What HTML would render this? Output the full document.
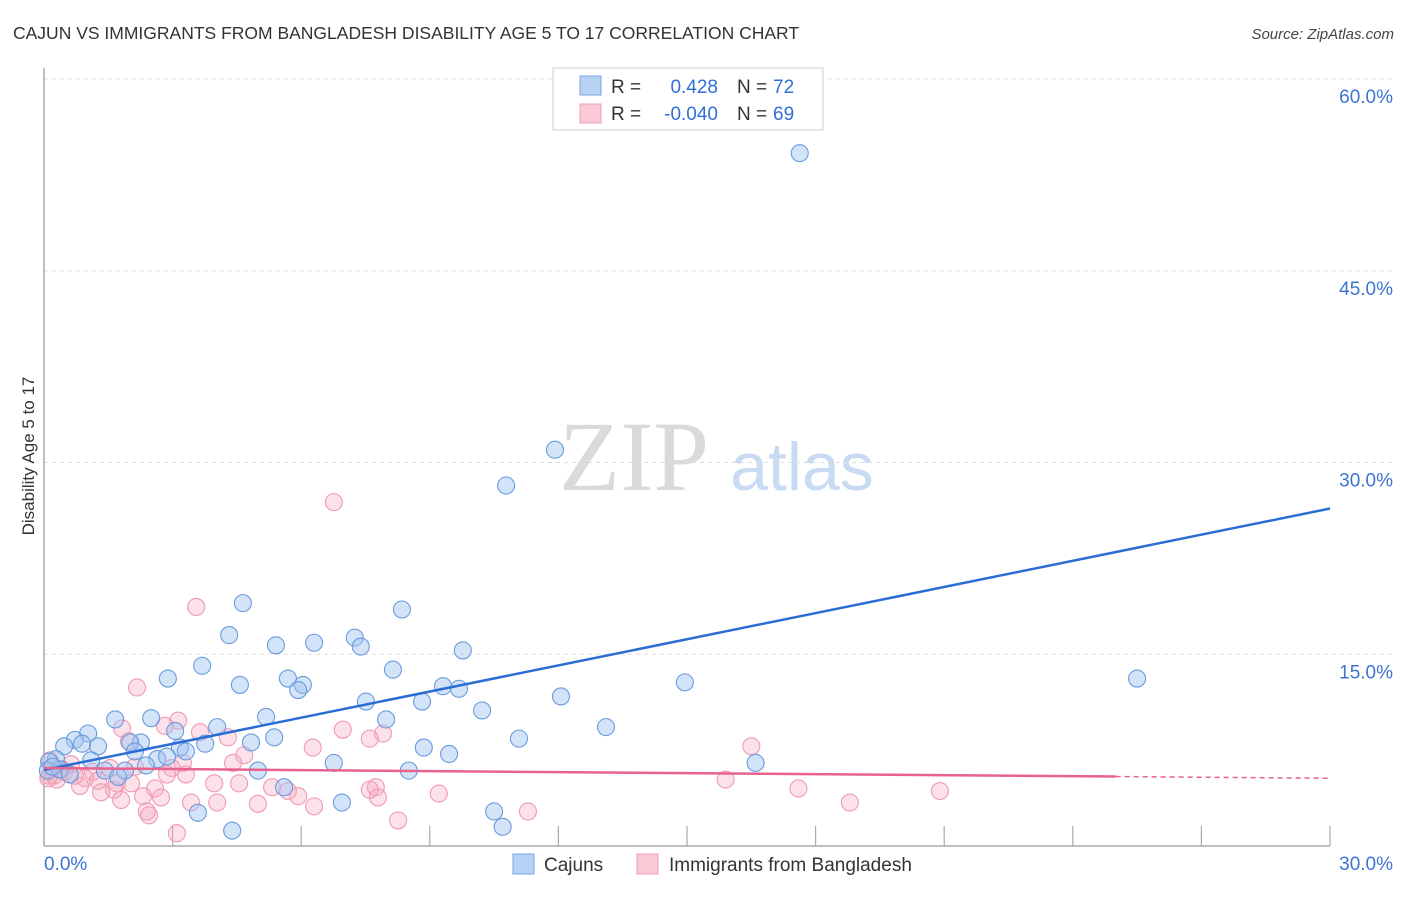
<!DOCTYPE html>
<html><head><meta charset="utf-8"><style>
body{margin:0;background:#fff;font-family:"Liberation Sans",sans-serif;}
</style></head><body>
<svg id="chart" width="1406" height="892" viewBox="0 0 1406 892" xmlns="http://www.w3.org/2000/svg" font-family="Liberation Sans, sans-serif">
<text x="13" y="39" font-size="17.5" fill="#333">CAJUN VS IMMIGRANTS FROM BANGLADESH DISABILITY AGE 5 TO 17 CORRELATION CHART</text>
<text x="1394" y="39" font-size="15" fill="#444" text-anchor="end" font-style="italic">Source: ZipAtlas.com</text>
<g>
<text x="634" y="490" font-size="100" fill="#dadada" text-anchor="middle" style="font-family:'Liberation Serif',serif">ZIP</text>
<text x="802" y="490" font-size="68" fill="#c8dbf3" text-anchor="middle">atlas</text>
</g>
<g id="grid"></g>
<g id="axes"></g>
<g id="pts"></g>
<g id="lines"></g>
<text transform="translate(34,456) rotate(-90)" font-size="17" fill="#333" text-anchor="middle">Disability Age 5 to 17</text>
<g>
<rect x="553" y="68" width="270" height="62" fill="#fff" stroke="#ccc"/>
<rect x="580" y="76" width="21" height="19" fill="#b8d2f3" stroke="#7aa6e4"/>
<rect x="580" y="104" width="21" height="19" fill="#f9c9d6" stroke="#eba0b6"/>
<text x="611" y="93" font-size="19" fill="#333">R =</text>
<text x="718" y="93" font-size="19" fill="#2f6fd6" text-anchor="end">0.428</text>
<text x="737" y="93" font-size="19" fill="#333">N =</text>
<text x="773" y="93" font-size="19" fill="#2f6fd6">72</text>
<text x="611" y="120" font-size="19" fill="#333">R =</text>
<text x="718" y="120" font-size="19" fill="#2f6fd6" text-anchor="end">-0.040</text>
<text x="737" y="120" font-size="19" fill="#333">N =</text>
<text x="773" y="120" font-size="19" fill="#2f6fd6">69</text>
</g>
<g>
<rect x="513" y="854" width="21" height="20" fill="#b8d2f3" stroke="#7aa6e4"/>
<text x="544" y="871" font-size="19" fill="#333">Cajuns</text>
<rect x="637" y="854" width="21" height="20" fill="#f9c9d6" stroke="#eba0b6"/>
<text x="669" y="871" font-size="19" fill="#333">Immigrants from Bangladesh</text>
</g>
</svg>
<script>
const yTicks=[15,30,45,60];
const yTickLabels=["15.0%","30.0%","45.0%","60.0%"];
const xTickLabels=["0.0%","30.0%"];
const cajunX=[17.63,11.92,10.78,4.64,8.35,4.32,7.25,6.30,5.41,7.39,9.77,3.69,8.14,2.89,5.69,25.5,14.95,4.57,6.04,5.93,9.31,9.68,12.06,7.51,8.82,10.22,2.50,5.18,1.66,7.98,4.04,13.11,3.06,1.03,0.72,5.37,11.08,2.26,4.83,2.01,0.47,0.89,1.26,3.76,3.17,8.86,3.31,9.45,2.12,1.10,2.64,2.87,0.28,2.38,6.76,16.6,1.42,1.89,4.99,8.51,1.73,0.12,5.60,6.95,3.59,10.5,4.39,10.7,0.09,0.37,0.2,0.6];
const cajunY=[54.2,31.0,28.2,19.0,18.5,16.5,16.3,15.9,15.7,15.6,15.3,14.1,13.8,13.1,13.1,13.1,12.8,12.6,12.6,12.2,12.5,12.3,11.7,11.3,11.3,10.6,10.0,10.1,9.9,9.9,9.3,9.3,9.0,8.8,8.3,8.5,8.4,8.1,8.1,8.1,7.8,8.0,7.8,8.0,7.7,7.7,7.4,7.2,7.4,6.7,6.8,7.0,6.8,6.3,6.5,6.5,5.9,5.9,5.9,5.9,5.4,6.6,4.6,3.4,2.6,2.7,1.2,1.5,5.9,6.0,6.2,5.6];
const bangX=[6.76,3.55,2.17,3.13,1.82,2.82,6.97,3.64,7.91,4.29,7.60,1.98,6.27,16.5,4.67,3.24,4.41,0.63,2.98,1.54,2.12,0.42,1.14,2.87,3.31,0.96,0.23,0.12,1.26,1.70,0.84,2.03,15.9,3.97,4.55,5.32,1.63,2.59,5.69,7.74,7.60,17.6,20.9,1.33,2.31,5.93,7.79,9.21,1.80,2.73,3.43,4.04,4.99,6.30,18.8,2.40,2.45,11.29,8.26,3.10,0.14,0.30,0.47,0.72,0.1];
const bangY=[26.9,18.7,12.4,9.8,9.2,9.4,9.1,8.9,8.8,8.5,8.4,8.2,7.7,7.8,7.1,6.5,6.5,6.4,6.1,6.1,6.2,6.0,5.8,5.6,5.6,5.3,5.5,5.5,5.1,4.9,4.7,4.9,5.2,4.9,4.9,4.6,4.4,4.5,4.3,4.6,4.4,4.5,4.3,4.2,3.9,3.9,3.8,4.1,3.6,3.8,3.4,3.4,3.3,3.1,3.4,2.7,2.4,2.7,2.0,1.0,6.7,5.2,5.8,5.5,5.3];
const cajunTrend=[5.95,26.4];
const bangTrend=[6.1,5.3];
const NS="http://www.w3.org/2000/svg";
const X0=44,X1=1330,Y0=846,Y60=79;
const sx=v=>X0+(X1-X0)*v/30;
const sy=v=>Y0-(Y0-Y60)*v/60;
function mk(tag,attrs,parent){const e=document.createElementNS(NS,tag);for(const k in attrs)e.setAttribute(k,attrs[k]);parent.appendChild(e);return e;}
const grid=document.getElementById('grid'),axes=document.getElementById('axes'),pts=document.getElementById('pts'),lines=document.getElementById('lines');
yTicks.forEach((t,i)=>{
 const l=mk('line',{x1:X0,x2:1394,y1:sy(t),y2:sy(t),stroke:'#ddd','stroke-dasharray':'4,4'},grid);
 
 
 const tx=mk('text',{x:1393,y:sy(t)+24,'font-size':19,fill:'#3d74d1','text-anchor':'end'},axes);
 tx.textContent=yTickLabels[i];
 
 
});
mk('line',{x1:X0,x2:X0,y1:68,y2:Y0,stroke:'#aaa','stroke-width':1.5},axes);
mk('line',{x1:X0,x2:X1,y1:Y0,y2:Y0,stroke:'#aaa','stroke-width':1.5},axes);
for(let i=1;i<=10;i++){const x=sx(i*3);mk('line',{x1:x,x2:x,y1:Y0-20,y2:Y0,stroke:'#aaa','stroke-width':1.2},axes);}
const xl0=mk('text',{x:44,y:870,'font-size':19,fill:'#3d74d1'},axes);xl0.textContent=xTickLabels[0];


const xl1=mk('text',{x:1393,y:870,'font-size':19,fill:'#3d74d1','text-anchor':'end'},axes);xl1.textContent=xTickLabels[1];


bangX.forEach((v,i)=>{
 const c=mk('circle',{cx:sx(v),cy:sy(bangY[i]),r:8.5,fill:'rgba(246,170,192,0.35)',stroke:'#ef9ab3','stroke-width':1.1},pts);
 
 
});
cajunX.forEach((v,i)=>{
 const c=mk('circle',{cx:sx(v),cy:sy(cajunY[i]),r:8.5,fill:'rgba(160,195,240,0.45)',stroke:'#6a9bde','stroke-width':1.1},pts);
 
 
});
const bl=mk('line',{x1:sx(0),y1:sy(cajunTrend[0]),x2:sx(30),y2:sy(cajunTrend[1]),stroke:'#2a6dd5','stroke-width':2.5},lines);


const pAt=v=>bangTrend[0]+(bangTrend[1]-bangTrend[0])*v/30;
const pl=mk('line',{x1:sx(0),y1:sy(pAt(0)),x2:sx(25),y2:sy(pAt(25)),stroke:'#e8628e','stroke-width':2.5},lines);


const pd=mk('line',{x1:sx(25),y1:sy(pAt(25)),x2:sx(30),y2:sy(pAt(30)),stroke:'#e8628e','stroke-width':1.5,'stroke-dasharray':'5,4'},lines);


</script>
</body></html>
